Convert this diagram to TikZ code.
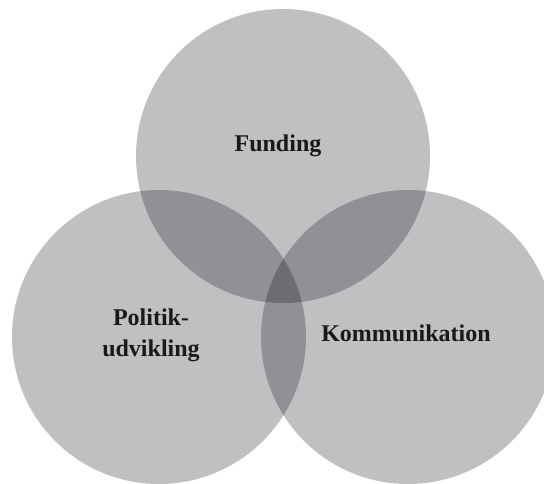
\documentclass[tikz,border=0pt]{standalone}
\usepackage{fontspec}
\setmainfont{Liberation Serif}
\usepackage{tikz}
\usetikzlibrary{positioning}
\definecolor{vennfill}{RGB}{0,4,12}

\begin{document}
\begin{tikzpicture}[
  x=1pt, y=-1pt,
  every node/.style={font=\fontsize{24}{31}\selectfont\bfseries, text=black!90},
  area/.style={
    circle, fill=vennfill, fill opacity=0.25,
    minimum size=294pt, inner sep=0pt
  },
  label/.style={align=center, text opacity=1}
]
\useasboundingbox (0,0) rectangle (544,484);
\clip (0,0) rectangle (544,484);

% Circles
\node[area] (funding) at (283,156) {};
\node[area] (politik) at (159,337) {};
\node[area] (komm) at (408,337) {};

% Labels
\node[label] (funding-text) at (278,146) {Funding};
\node[label] (politik-text) at (151,335) {Politik-\\udvikling};
\node[label] (komm-text) at (406,333) {Kommunikation};
\end{tikzpicture}
\end{document}
